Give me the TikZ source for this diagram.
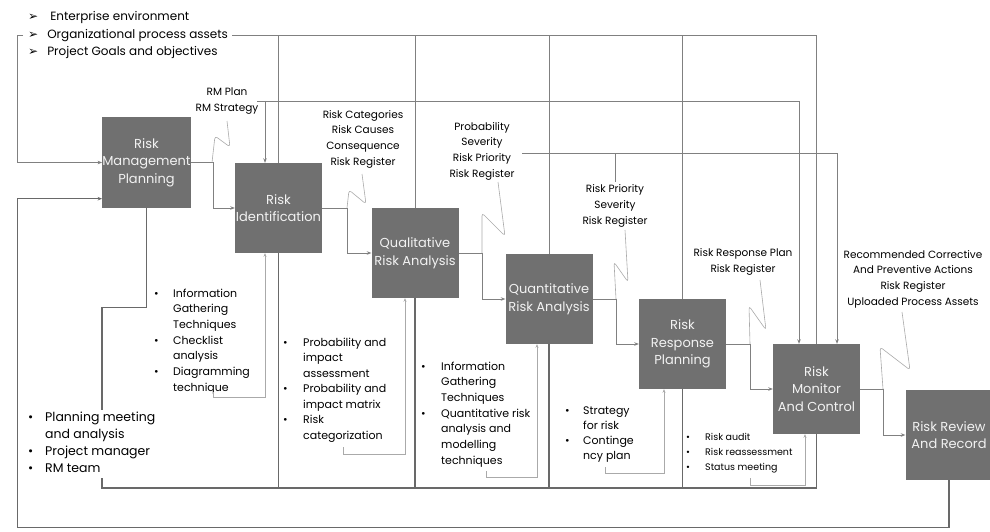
\documentclass[tikz,border=0pt]{standalone}
\usepackage{fontspec}
\setmainfont{Poppins}
\newfontfamily\dingfont{DejaVu Sans}
\usetikzlibrary{arrows.meta,calc}
\definecolor{boxgray}{RGB}{112,112,112}
\definecolor{boxtext}{RGB}{242,242,242}
\definecolor{linegray}{RGB}{128,128,128}
\definecolor{busgray}{RGB}{105,105,105}
\definecolor{softgray}{RGB}{170,170,170}
\newcommand{\bu}{\textbullet}
\newcommand{\arrowbullet}{{\dingfont\fontsize{12}{12}\selectfont ➢}}

\begin{document}
\begin{tikzpicture}[x=1pt,y=-1pt,
  stage/.style={fill=boxgray, minimum width=87pt, minimum height=90pt, inner sep=0pt,
    align=center, text=boxtext, font=\fontsize{13}{17.5}\selectfont},
  conn/.style={draw=linegray, line width=0.8pt},
  arr/.style={conn, -{Stealth[length=4.5pt,width=3.5pt]}},
  bus/.style={draw=busgray, line width=1.1pt},
  tool/.style={draw=softgray, line width=0.7pt, -{Stealth[length=3.5pt,width=3pt]}},
  squig/.style={draw=softgray, line width=0.6pt, rounded corners=3pt},
  lab/.style={align=center, inner sep=0pt, font=\fontsize{10.5}{15.7}\selectfont},
  inp/.style={anchor=west, inner sep=0pt, font=\fontsize{12}{15}\selectfont,
    text height=9pt, text depth=3pt},
  lst/.style={anchor=base west, inner sep=0pt}
]
\fill[white] (0,0) rectangle (990,532);
\useasboundingbox (0,0) rectangle (990,532);

% process stages
\node[stage] (rmp)   at (146.5,162.5) {Risk\\Management\\Planning};
\node[stage] (ri)    at (278.5,208)   {Risk\\Identification};
\node[stage] (qual)  at (415,253)     {Qualitative\\Risk Analysis};
\node[stage] (quant) at (549,299)     {Quantitative\\Risk Analysis};
\node[stage] (rrp)   at (682.5,344)   {Risk\\Response\\Planning};
\node[stage] (rmc)   at (816.5,389)   {Risk\\Monitor\\And Control};
\node[stage] (rrr)   at (949,435)     {Risk Review\\And Record};

% project inputs
\node[inp] (ee)  at (28,18)   {\arrowbullet\hspace{12pt}Enterprise environment};
\node[inp] (opa) at (28,35.5) {\arrowbullet\hspace{9pt}Organizational process assets};
\node[inp] (pgo) at (28,53)   {\arrowbullet\hspace{9pt}Project Goals and objectives};

% output labels
\node[lab] (rmplab)  at (227,101) {RM Plan\\RM Strategy};
\node[lab] (catlab)  at (363,139) {Risk Categories\\Risk Causes\\Consequence\\Risk Register};
\node[lab] (problab) at (482,151) {Probability\\Severity\\Risk Priority\\Risk Register};
\node[lab] (rpslab)  at (615,206) {Risk Priority\\Severity\\Risk Register};
\node[lab] (rrplab)  at (743,262) {Risk Response Plan\\Risk Register};
\node[lab] (reclab)  at (913,279) {Recommended Corrective\\And Preventive Actions\\Risk Register\\Uploaded Process Assets};

% tools and techniques
\node[lst, font=\fontsize{11}{15.7}\selectfont] (ritools) at (154,297)
  {\begin{tabular}[t]{@{}p{19pt}@{}l@{}}\bu & Information\\ & Gathering\\ & Techniques\\ \bu & Checklist\\ & analysis\\ \bu & Diagramming\\ & technique\end{tabular}};
\node[lst, font=\fontsize{11}{15.5}\selectfont] (qualtools) at (283,346)
  {\begin{tabular}[t]{@{}p{20pt}@{}l@{}}\bu & Probability and\\ & impact\\ & assessment\\ \bu & Probability and\\ & impact matrix\\ \bu & Risk\\ & categorization\end{tabular}};
\node[lst, font=\fontsize{11}{15.7}\selectfont] (quanttools) at (421,370)
  {\begin{tabular}[t]{@{}p{20pt}@{}l@{}}\bu & Information\\ & Gathering\\ & Techniques\\ \bu & Quantitative risk\\ & analysis and\\ & modelling\\ & techniques\end{tabular}};
\node[lst, font=\fontsize{11}{15.3}\selectfont] (rrptools) at (565,414)
  {\begin{tabular}[t]{@{}p{18pt}@{}l@{}}\bu & Strategy\\ & for risk\\ \bu & Continge\\ & ncy plan\end{tabular}};
\node[lst, font=\fontsize{9.5}{15}\selectfont] (rmctools) at (686,440.5)
  {\begin{tabular}[t]{@{}p{19pt}@{}l@{}}\bu & Risk audit\\ \bu & Risk reassessment\\ \bu & Status meeting\end{tabular}};

% attachment points
\coordinate (rmpT)  at (257,101);
\coordinate (probT) at (522,153);
\coordinate (busY)  at (0,488);
\coordinate (riTop) at ([xshift=-13.5pt]ri.north);
\coordinate (rmcA)  at ([xshift=-17.5pt]rmc.north);
\coordinate (rmcB)  at ([xshift=20.5pt]rmc.north);
\coordinate (rmpFb) at ([yshift=9pt]rmp.south west);

% organizational process assets feed every stage
\draw[conn] ([xshift=4pt]opa.east) -| (rmc.north);
\foreach \n in {ri,qual,quant,rrp} \draw[conn] (\n.north |- opa.east) -- (\n.north);
\draw[arr] ([xshift=-5pt]opa.west) -- ++(-6,0) |- (rmp.west);

% RM plan and risk register feeds
\draw[arr] (rmpT) -| (rmcA);
\draw[arr] (riTop |- rmpT) -- (riTop);
\draw[arr] (probT) -| (rmcB);
\draw[conn] (rpslab.north |- probT) -- ([yshift=3pt]rpslab.north);

% main process flow
\draw[arr] (rmp.east)   -- ++(22,0)   |- (ri.west);
\draw[arr] (ri.east)    -- ++(25,0)   |- (qual.west);
\draw[arr] (qual.east)  -- ++(24,0)   |- (quant.west);
\draw[arr] (quant.east) -- ++(23.5,0) |- (rrp.west);
\draw[arr] (rrp.east)   -- ++(24,0)   |- (rmc.west);
\draw[arr] (rmc.east)   -- ++(23,0)   |- (rrr.west);

% planning bus along the bottom
\draw[bus] (rmp.south) -- ++(0,100) -| (102,488) -| (rmc.south);
\foreach \n in {ri,qual,quant,rrp} \draw[bus] (\n.south) -- (\n.south |- busY);

% planning resources, set over the bus line
\node[lst, fill=white, font=\fontsize{12.5}{17}\selectfont] (rmptools) at (28,421.5)
  {\begin{tabular}[t]{@{}p{17pt}@{}l@{}}\bu & Planning meeting\\ & and analysis\\ \bu & Project manager\\ \bu & RM team\end{tabular}};

% review feeds back into planning
\draw[bus, -{Stealth[length=4.5pt,width=3.5pt]}] (rrr.south) -- ++(0,47) -| ([xshift=-84.5pt]rmpFb) -- (rmpFb);

% tools into each stage
\draw[tool] (213,392) -- ++(0,5) -| ([xshift=-13.5pt]ri.south);
\draw[tool] (343,447) -- ++(0,7) -| ([xshift=-10pt]qual.south);
\draw[tool] (486,471) -- ++(0,6) -| ([xshift=-12pt]quant.south);
\draw[tool] (605,467) -- ++(0,6) -| ([xshift=-18.5pt]rrp.south);
\draw[tool] (750,478) -- ++(0,7) -| ([xshift=-11.5pt]rmc.south);

% callout strokes from labels to the flow
\draw[squig] (227,121) -- (230,147) -- (215,136) -- (212,162.5);
\draw[squig] (362,174) -- (366,204) -- (349,190) -- (347,208);
\draw[squig] (498,182) -- (505,236) -- (482,213) -- (482,253);
\draw[squig] (625,230) -- (628,282) -- (614,262) -- (616,299);
\draw[squig] (760,280) -- (766,330) -- (749,306) -- (750,344);
\draw[squig] (902,312) -- (910,370) -- (880,347) -- (883,389);
\end{tikzpicture}
\end{document}
